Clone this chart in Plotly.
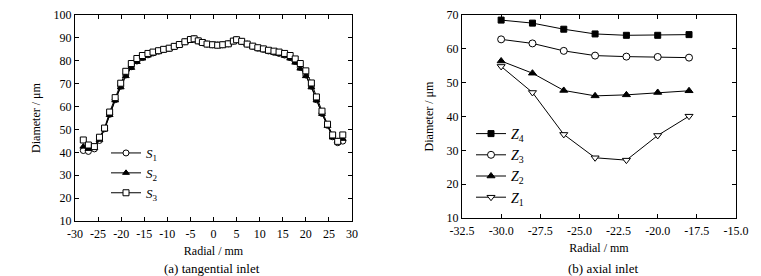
import plotly.graph_objects as go

# ---------------- data: (a) tangential inlet ----------------
radial_a = [-28.2, -27.1, -25.8, -24.7, -23.6, -22.5, -21.3, -20.1, -19.0, -17.8,
            -16.6, -15.4, -14.2, -13.1, -11.9, -10.8, -9.6, -8.5, -7.4, -6.2,
            -5.0, -4.2, -3.3, -2.4, -1.4, -0.2, 0.9, 2.0, 3.2, 4.3,
            5.0, 6.1, 7.3, 8.5, 9.6, 10.8, 11.9, 13.1, 14.2, 15.4,
            16.6, 17.7, 18.8, 20.0, 21.2, 22.3, 23.5, 24.7, 25.8, 26.9, 28.0]

S1 = [40.8, 40.4, 41.5, 45.2, 50.3, 56.6, 63.0, 68.9, 73.8, 77.4,
      79.9, 81.4, 82.6, 83.4, 84.2, 84.9, 85.4, 86.2, 87.1, 88.3,
      89.3, 89.6, 88.7, 87.9, 87.3, 87.0, 86.9, 87.0, 87.4, 88.6,
      89.2, 88.4, 87.3, 86.3, 85.5, 85.0, 84.3, 83.7, 83.2, 82.5,
      81.4, 79.7, 77.1, 73.8, 68.9, 63.0, 57.0, 51.8, 46.8, 44.2, 44.9]

S2 = [42.5, 41.5, 42.0, 45.5, 50.0, 56.3, 62.7, 68.4, 73.3, 76.9,
      79.5, 81.0, 82.3, 83.2, 84.0, 84.7, 85.3, 86.1, 87.0, 88.2,
      89.2, 89.5, 88.6, 87.9, 87.2, 86.9, 86.8, 86.9, 87.3, 88.5,
      89.1, 88.4, 87.2, 86.2, 85.4, 84.8, 84.1, 83.5, 83.0, 82.2,
      81.0, 79.2, 76.6, 73.3, 68.4, 62.7, 56.8, 51.5, 46.5, 45.0, 45.9]

S3 = [45.4, 43.2, 42.5, 46.6, 50.6, 57.6, 63.9, 70.2, 75.4, 78.8,
      81.0, 82.3, 83.2, 83.8, 84.4, 85.0, 85.5, 86.3, 87.1, 88.3,
      89.3, 89.6, 88.7, 88.0, 87.3, 87.0, 86.8, 87.0, 87.4, 88.6,
      89.2, 88.5, 87.3, 86.4, 85.7, 85.2, 84.6, 84.2, 83.8, 83.2,
      82.3, 80.8, 78.8, 75.6, 70.3, 64.2, 58.0, 52.3, 47.6, 44.8, 47.6]

# ---------------- data: (b) axial inlet ----------------
radial_b = [-30, -28, -26, -24, -22, -20, -18]
Z4 = [68.5, 67.6, 65.8, 64.4, 64.0, 64.0, 64.2]
Z3 = [62.8, 61.6, 59.4, 58.0, 57.7, 57.6, 57.4]
Z2 = [56.4, 52.8, 47.7, 46.1, 46.4, 47.1, 47.6]
Z1 = [54.8, 47.1, 34.7, 27.8, 27.1, 34.4, 40.1]

# tick labels
xa_vals = [-30, -25, -20, -15, -10, -5, 0, 5, 10, 15, 20, 25, 30]
xa_text = ["-30", "-25", "-20", "-15", "-10", "-5", "0", "5", "10", "15", "20", "25", "30"]
ya_vals = [10, 20, 30, 40, 50, 60, 70, 80, 90, 100]
xb_vals = [-32.5, -30.0, -27.5, -25.0, -22.5, -20.0, -17.5, -15.0]
xb_text = ["-32.5", "-30.0", "-27.5", "-25.0", "-22.5", "-20.0", "-17.5", "-15.0"]
yb_vals = [10, 20, 30, 40, 50, 60, 70]

FONT = "Liberation Serif"
BLACK = "#000000"

fig = go.Figure()

def add(x, y, name, symbol, filled, xa, ya, legend, size=6):
    fig.add_trace(go.Scatter(
        x=x, y=y, name=name, mode="lines+markers",
        xaxis=xa, yaxis=ya, legend=legend,
        line=dict(color=BLACK, width=1),
        marker=dict(symbol=symbol, size=size,
                    color=BLACK if filled else "white",
                    line=dict(color=BLACK, width=1)),
    ))

add(radial_a, S1, "<i>S</i><sub>1</sub>", "circle", False, "x", "y", "legend")
add(radial_a, S2, "<i>S</i><sub>2</sub>", "triangle-up", True, "x", "y", "legend")
add(radial_a, S3, "<i>S</i><sub>3</sub>", "square", False, "x", "y", "legend")

add(radial_b, Z4, "<i>Z</i><sub>4</sub>", "square", True, "x2", "y2", "legend2", 6)
add(radial_b, Z3, "<i>Z</i><sub>3</sub>", "circle", False, "x2", "y2", "legend2", 7)
add(radial_b, Z2, "<i>Z</i><sub>2</sub>", "triangle-up", True, "x2", "y2", "legend2", 7)
add(radial_b, Z1, "<i>Z</i><sub>1</sub>", "triangle-down", False, "x2", "y2", "legend2", 7)

W, H = 761, 276
axcommon = dict(showline=True, linecolor=BLACK, linewidth=1, mirror="ticks",
                ticks="inside", ticklen=4, tickcolor=BLACK, showgrid=False,
                zeroline=False, automargin=False,
                tickfont=dict(family=FONT, size=12, color=BLACK),
                title_font=dict(family=FONT, size=12, color=BLACK))

fig.update_layout(
    width=W, height=H,
    margin=dict(l=0, r=0, t=0, b=0, autoexpand=False),
    paper_bgcolor="white", plot_bgcolor="white",
    font=dict(family=FONT, size=12, color=BLACK),
    xaxis=dict(domain=[75 / W, 352 / W], range=[-30, 30], anchor="y",
               tickvals=xa_vals, ticktext=xa_text, ticklabelstandoff=2,
               title=dict(text="Radial / mm", standoff=6), **axcommon),
    yaxis=dict(domain=[1 - 221 / H, 1 - 15 / H], range=[10, 100], anchor="x",
               tickvals=ya_vals,
               title=dict(text="Diameter / μm", standoff=10), **axcommon),
    xaxis2=dict(domain=[462 / W, 736 / W], range=[-32.5, -15], anchor="y2",
                tickvals=xb_vals, ticktext=xb_text, ticklabelstandoff=2,
                title=dict(text="Radial / mm", standoff=6), **axcommon),
    yaxis2=dict(domain=[1 - 218 / H, 1 - 15 / H], range=[10, 70], anchor="x2",
                tickvals=yb_vals,
                title=dict(text="Diameter / μm", standoff=10), **axcommon),
    legend=dict(x=106 / W, y=1 - 138 / H, xanchor="left", yanchor="top",
                bgcolor="rgba(0,0,0,0)", font=dict(family=FONT, size=13, color=BLACK),
                itemwidth=30, tracegroupgap=0),
    legend2=dict(x=471 / W, y=1 - 118 / H, xanchor="left", yanchor="top",
                 bgcolor="rgba(0,0,0,0)", font=dict(family=FONT, size=14, color=BLACK),
                 itemwidth=30, tracegroupgap=0),
    showlegend=True,
)

fig.add_annotation(text="(a) tangential inlet", x=212 / W, y=1 - 268 / H,
                   xref="paper", yref="paper", showarrow=False,
                   xanchor="center", yanchor="middle",
                   font=dict(family=FONT, size=13, color=BLACK))
fig.add_annotation(text="(b) axial inlet", x=603 / W, y=1 - 268 / H,
                   xref="paper", yref="paper", showarrow=False,
                   xanchor="center", yanchor="middle",
                   font=dict(family=FONT, size=13, color=BLACK))

fig.write_html("out.html", config={"displayModeBar": False},
               post_script="document.body.style.margin='0';document.body.style.overflow='hidden';")
